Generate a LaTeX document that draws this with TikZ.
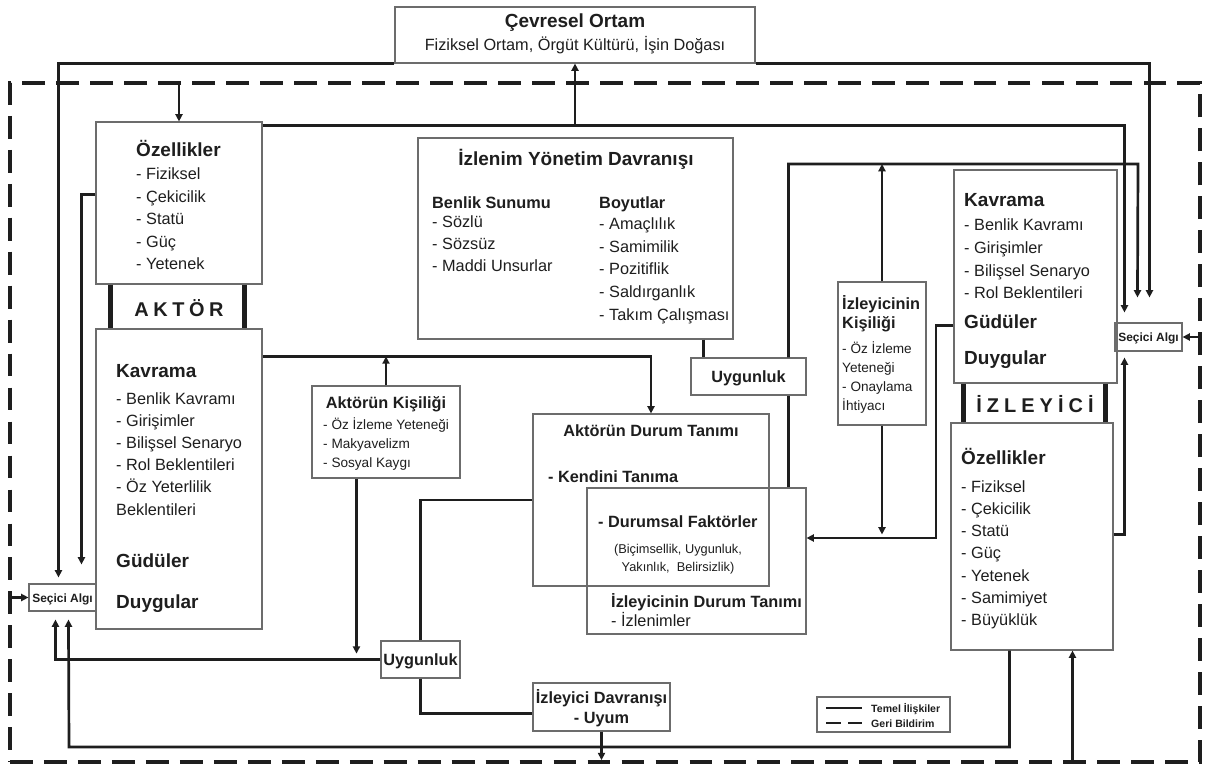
\documentclass[tikz,border=0pt]{standalone}
\usepackage{fontspec}
\setmainfont{Liberation Sans}
\usetikzlibrary{arrows.meta,calc,fit}

\definecolor{ink}{HTML}{1E1E1E}
\definecolor{edge}{HTML}{6C6C6C}

% type sizes
\newcommand\fH{\fontsize{16.2pt}{19pt}\selectfont\bfseries}
\newcommand\fB{\fontsize{13.9pt}{16pt}\selectfont\bfseries}
\newcommand\fN{\fontsize{13.9pt}{16pt}\selectfont}
\newcommand\fS{\fontsize{11.6pt}{13pt}\selectfont}
\newcommand\fP{\fontsize{10.9pt}{12pt}\selectfont}
\newcommand\fT{\fontsize{10.2pt}{12pt}\selectfont\bfseries}
\newcommand\fL{\fontsize{9pt}{10pt}\selectfont\bfseries}
\newcommand\fA{\fontsize{17pt}{20pt}\selectfont\bfseries}

% a column of text lines: name, font, x, first baseline, step, entries
\newcommand\itemlist[6]{%
  \foreach \entry [count=\k] in {#6}{%
    \node[txt,font=#2] (#1-\k) at (#3,{#4+#5*(\k-1)}) {\entry};}}

\begin{document}
\begin{tikzpicture}[x=0.03cm,y=-0.03cm,
  box/.style={draw=edge,line width=0.9pt,inner sep=0pt,rectangle},
  txt/.style={inner sep=0pt,anchor=base west,text=ink},
  ctxt/.style={inner sep=0pt,anchor=base,text=ink},
  conn/.style={draw=ink,line width=2.3pt},
  arr/.style={-{Triangle[length=6.2pt,width=6pt]}},
  sidebar/.style={draw=ink,line width=5pt},
  dashframe/.style={draw=ink,line width=2.8pt,dash pattern=on 19.5pt off 9.5pt}]

\useasboundingbox (0,0) rectangle (1205,765);
\fill[white] (0,0) rectangle (1205,765);

% ---------- boxes ----------
\node[box,fit={(395,7) (755,63)}] (cev) {};
\node[box,fit={(96,122) (262,284)}] (ozA) {};
\node[box,fit={(96,329) (262,629)}] (kavA) {};
\node[box,fit={(29,584) (96,611)}] (secL) {};
\node[box,fit={(418,138) (733,339)}] (izl) {};
\node[box,fit={(691,358) (806,395)}] (uygT) {};
\node[box,fit={(838,282) (926,425)}] (kisI) {};
\node[box,fit={(954,170) (1117,383)}] (kavI) {};
\node[box,fit={(1115,323) (1182,351)}] (secR) {};
\node[box,fit={(951,423) (1113,650)}] (ozI) {};
\node[box,fit={(312,386) (460,478)}] (kisA) {};
\node[box,fit={(533,414) (769,586)}] (durA) {};
\node[box,fit={(587,488) (806,634)}] (durI) {};
\node[box,fit={(381,641) (460,678)}] (uygB) {};
\node[box,fit={(533,683) (670,731)}] (davI) {};
\node[box,fit={(817,697) (950,732)}] (leg) {};
\node[dashframe,inner sep=0pt,fit={(10,83) (1200,762)}] (frm) {};

% ---------- environment ----------
\node[ctxt,font=\fH] (cevT) at (575,28) {Çevresel Ortam};
\node[ctxt,font=\fN] (cevS) at (575,51) {Fiziksel Ortam, Örgüt Kültürü, İşin Doğası};

% ---------- actor ----------
\node[txt,font=\fH] (ozAT) at (136,157) {Özellikler};
\itemlist{ozA}{\fN}{136}{180}{22.5}{{- Fiziksel},{- Çekicilik},{- Statü},{- Güç},{- Yetenek}}
\draw[sidebar] ($(ozA.south west)+(15,0)$) -- ($(kavA.north west)+(15,0)$);
\draw[sidebar] ($(ozA.south east)+(-18,0)$) -- ($(kavA.north east)+(-18,0)$);
\node[ctxt,font=\fA] (aktor) at (179,316) {A\kern3.9pt K\kern3.9pt T\kern3.9pt Ö\kern3.9pt R};

\node[txt,font=\fH] (kavAT) at (116,377) {Kavrama};
\itemlist{kavA}{\fN}{116}{404}{22.2}{{- Benlik Kavramı},{- Girişimler},{- Bilişsel Senaryo},{- Rol Beklentileri},{- Öz Yeterlilik},{Beklentileri}}
\node[txt,font=\fH] (kavAG) at (116,567) {Güdüler};
\node[txt,font=\fH] (kavAD) at (116,608) {Duygular};
\node[ctxt,font=\fT] (secLT) at (62.5,602) {Seçici Algı};

% ---------- impression management behaviour ----------
\node[ctxt,font=\fH] (izlT) at (576,166) {İzlenim Yönetim Davranışı};
\node[txt,font=\fB] (izlB) at (432,209) {Benlik Sunumu};
\itemlist{izlB}{\fN}{432}{228}{22}{{- Sözlü},{- Sözsüz},{- Maddi Unsurlar}}
\node[txt,font=\fB] (izlD) at (599,209) {Boyutlar};
\itemlist{izlD}{\fN}{599}{230}{22.5}{{- Amaçlılık},{- Samimilik},{- Pozitiflik},{- Saldırganlık},{- Takım Çalışması}}
\node[ctxt,font=\fB] (uygTT) at (748.5,382) {Uygunluk};

% ---------- personalities ----------
\node[ctxt,font=\fB] (kisAT) at (386,408) {Aktörün Kişiliği};
\itemlist{kisA}{\fS}{323}{429}{19}{{- Öz İzleme Yeteneği},{- Makyavelizm},{- Sosyal Kaygı}}
\itemlist{kisIH}{\fB}{842}{309}{19}{{İzleyicinin},{Kişiliği}}
\itemlist{kisI}{\fS}{842}{353}{19}{{- Öz İzleme},{Yeteneği},{- Onaylama},{İhtiyacı}}

% ---------- definitions of the situation ----------
\node[ctxt,font=\fB] (durAT) at (651,436) {Aktörün Durum Tanımı};
\node[txt,font=\fB] (durAK) at (548,482) {- Kendini Tanıma};
\node[txt,font=\fB] (durIF) at (598,527) {- Durumsal Faktörler};
\node[ctxt,font=\fP] (durIP1) at (678,553) {(Biçimsellik, Uygunluk,};
\node[ctxt,font=\fP] (durIP2) at (678,571) {Yakınlık,\ \ Belirsizlik)};
\node[txt,font=\fB] (durIT) at (611,607) {İzleyicinin Durum Tanımı};
\node[txt,font=\fN] (durII) at (611,626) {- İzlenimler};

\node[ctxt,font=\fB] (uygBT) at (420.5,665) {Uygunluk};
\node[ctxt,font=\fB] (davIT) at (601.5,703) {İzleyici Davranışı};
\node[ctxt,font=\fB] (davIU) at (601.5,723) {- Uyum};

% ---------- audience ----------
\node[txt,font=\fH] (kavIT) at (964,207) {Kavrama};
\itemlist{kavI}{\fN}{964}{231}{22.6}{{- Benlik Kavramı},{- Girişimler},{- Bilişsel Senaryo},{- Rol Beklentileri}}
\node[txt,font=\fH] (kavIG) at (964,328) {Güdüler};
\node[txt,font=\fH] (kavID) at (964,364) {Duygular};
\draw[sidebar] ($(kavI.south west)+(10,0)$) -- ($(ozI.north west)+(13,0)$);
\draw[sidebar] ($(kavI.south east)+(-12,0)$) -- ($(ozI.north east)+(-8,0)$);
\node[ctxt,font=\fA] (izleyici) at (1035,412) {İ\kern4.3pt Z\kern4.3pt L\kern4.3pt E\kern4.3pt Y\kern4.3pt İ\kern4.3pt C\kern4.3pt İ};
\node[txt,font=\fH] (ozIT) at (961,464) {Özellikler};
\itemlist{ozI}{\fN}{961}{492}{22.3}{{- Fiziksel},{- Çekicilik},{- Statü},{- Güç},{- Yetenek},{- Samimiyet},{- Büyüklük}}
\node[ctxt,font=\fT] (secRT) at (1148.5,341) {Seçici Algı};

% ---------- legend ----------
\coordinate (legA) at (826,708);
\coordinate (legB) at (826,723);
\draw[draw=ink,line width=1.6pt] (legA) -- ++(36,0) coordinate (legA2);
\draw[draw=ink,line width=1.6pt,dash pattern=on 13pt off 6pt] (legB) -- ++(36,0) coordinate (legB2);
\node[txt,font=\fL] (legT1) at (871,712) {Temel İlişkiler};
\node[txt,font=\fL] (legT2) at (871,727) {Geri Bildirim};

% ---------- connector anchors ----------
\coordinate (ozAtop) at ($(ozA.north east)+(0,4)$);
\coordinate (ozAside) at ($(ozA.north west)+(0,73)$);
\coordinate (kavAr) at ($(kavA.north east)+(0,28)$);
\coordinate (kisAb) at ($(kisA.south west)+(45,0)$);
\coordinate (davIl) at ($(davI.south west)+(0,-18)$);
\coordinate (izlb) at ($(izl.south east)+(-30,0)$);
\coordinate (durIt) at ($(durI.north east)+(-18,0)$);
\coordinate (kavIl) at ($(kavI.north west)+(0,156)$);
\coordinate (ozIr) at ($(ozI.north east)+(0,112)$);
\coordinate (ozIb) at ($(ozI.south west)+(59,0)$);
\coordinate (ozIin) at ($(ozI.south west)+(122,0)$);
\coordinate (upRun) at (1138,164);
\coordinate (midRun) at (936,538);
\coordinate (lowRun) at (69,747);

% ---------- connectors ----------
\draw[conn,arr] (cev.south west) -| ($(secL.north west)+(30,-6)$);
\draw[conn,arr] (cev.south east) -| ($(secR.north west)+(35,-25)$);
\draw[conn,arr] (ozAtop) -| ($(secR.north west)+(10,-10)$);
\draw[conn,arr] (ozAtop -| cev.south) -- (cev.south);
\draw[conn,arr] (ozAside) -| ($(secL.north west)+(53,-19)$);
\draw[conn,arr] (frm.north -| ozA.north) -- (ozA.north);
\draw[conn,arr] (kavAr) -| (durA.north);
\draw[conn,arr] (kisA.north) -- (kisA.north |- kavAr);
\draw[conn,arr,shorten >=5pt] (kisAb) -- (kisAb |- uygB.west);
\draw[conn,arr] (uygB.west) -| ($(secL.south west)+(27,8)$);
\draw[conn] (uygB.north) |- (durA.west);
\draw[conn] (uygB.south) |- (davIl);
\draw[conn,arr,shorten >=3pt] (davI.south) -- (davI.south |- frm.south);
\draw[conn,arr] (ozIb) |- (lowRun) -- ($(secL.south west)+(40,8)$);
\draw[conn,arr] (ozIin |- frm.south) -- (ozIin);
\draw[conn] (durIt) -- (durIt |- uygT.south);
\draw[conn,arr] (durIt |- uygT.north) |- (upRun) -- ($(secR.north west)+(23,-25)$);
\draw[conn] (izlb) -- (izlb |- uygT.north);
\draw[conn,arr] (kisI.north) -- (kisI.north |- upRun);
\draw[conn,arr,shorten >=3pt] (kisI.south) -- (kisI.south |- midRun);
\draw[conn,arr] (kavIl) -| (midRun) -- (durI.east |- midRun);
\draw[conn,arr] (ozIr) -| ($(secR.south west)+(10,6)$);
\draw[conn,arr] (frm.east |- secR.east) -- (secR.east);
\draw[conn,arr] (frm.west |- secL.west) -- (secL.west);
\end{tikzpicture}
\end{document}
